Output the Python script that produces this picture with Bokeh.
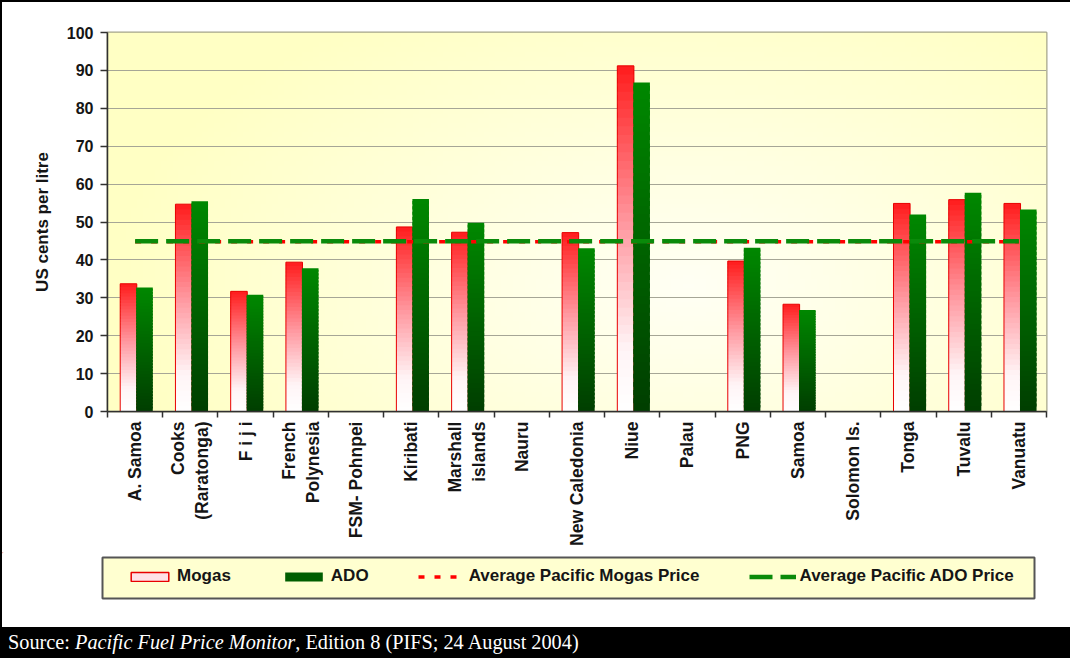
import math
import numpy as np
from bokeh.plotting import figure
from bokeh.models import (Range1d, FixedTicker, Legend, LegendItem, Div,
                          CustomJSTickFormatter)
from bokeh.layouts import column, row
from bokeh.embed import file_html
from bokeh.resources import INLINE

# ---------------- data ----------------
countries = ["A. Samoa", "Cooks\n(Raratonga)", "F i j i", "French\nPolynesia",
             "FSM- Pohnpei", "Kiribati", "Marshall\nislands", "Nauru",
             "New Caledonia", "Niue", "Palau", "PNG", "Samoa", "Solomon Is.",
             "Tonga", "Tuvalu", "Vanuatu"]
mogas = [33.7, 54.7, 31.7, 39.4, None, 48.7, 47.3, None, 47.2, 91.2,
         None, 39.7, 28.3, None, 54.9, 55.9, 54.9]
ado = [32.7, 55.5, 30.8, 37.8, None, 56.1, 49.8, None, 43.1, 86.8,
       None, 43.2, 26.8, None, 52.0, 57.7, 53.3]
mogas_avg = 44.8
ado_avg = 44.9
y_ticks = [0, 10, 20, 30, 40, 50, 60, 70, 80, 90, 100]
series_labels = ["Mogas", "ADO", "Average Pacific Mogas Price", "Average Pacific ADO Price"]
source_text = ('Source: <i>Pacific Fuel Price Monitor</i>, Edition 8 '
               '(PIFS; 24 August 2004)')

n = len(countries)
centers = [i + 0.5 for i in range(n)]
BAR_W = 0.30
M_OFF = -0.12
A_OFF = 0.17

FONT = "Liberation Sans"
MOGAS_LINE = "#E80000"
AVG_M_STYLE = dict(line_color="#FF0000", line_width=3.5, line_dash="6 10")
AVG_A_STYLE = dict(line_color="#0A8A0A", line_width=4.5, line_dash="23 8")

p = figure(width=1068, height=550, x_range=Range1d(0, n), y_range=Range1d(0, 100),
           output_backend="svg", toolbar_location=None,
           min_border_left=105, min_border_right=24, min_border_top=30,
           min_border_bottom=141, margin=0)
p.border_fill_color = "white"
p.background_fill_color = "#FFFFD8"
p.outline_line_color = "#A4A48C"
p.outline_line_width = 2

# background radial gradient of the plot area
H, W = 80, 160
yy, xx = np.mgrid[0:H, 0:W]
fx = xx / (W - 1)
fy = yy / (H - 1)
d = np.clip(np.sqrt(((fx - 0.62) / 0.62) ** 2 + ((fy - 0.33) / 0.85) ** 2), 0, 1)
img = np.empty((H, W), dtype=np.uint32)
view = img.view(dtype=np.uint8).reshape((H, W, 4))
c_in = np.array([255, 255, 244])
c_out = np.array([255, 255, 196])
for ch in range(3):
    view[:, :, ch] = np.round(c_in[ch] + (c_out[ch] - c_in[ch]) * d).astype(np.uint8)
view[:, :, 3] = 255
p.image_rgba(image=[img], x=0, y=0, dw=n, dh=100, level="image")

# ---------------- gradient bars ----------------
def interp_stops(stops, t):
    for (t0, c0), (t1, c1) in zip(stops[:-1], stops[1:]):
        if t <= t1:
            u = 0 if t1 == t0 else (t - t0) / (t1 - t0)
            c = [int(round(a + (b - a) * u)) for a, b in zip(c0, c1)]
            return "#%02x%02x%02x" % tuple(c)
    return "#%02x%02x%02x" % tuple(stops[-1][1])

mogas_stops = [(0.0, (255, 255, 255)), (0.18, (255, 244, 246)),
               (0.55, (255, 150, 158)), (1.0, (255, 28, 28))]
ado_stops = [(0.0, (0, 62, 0)), (1.0, (0, 136, 0))]

NS = 40

def strips(values, off, stops):
    d = dict(left=[], right=[], bottom=[], top=[], color=[])
    for c, v in zip(centers, values):
        if v is None:
            continue
        for k in range(NS):
            t = (k + 0.5) / NS
            d["left"].append(c + off - BAR_W / 2)
            d["right"].append(c + off + BAR_W / 2)
            d["bottom"].append(v * k / NS)
            d["top"].append(min(v, v * (k + 1.6) / NS))
            d["color"].append(interp_stops(stops, t))
    return d

md = strips(mogas, M_OFF, mogas_stops)
p.quad(left="left", right="right", bottom="bottom", top="top", fill_color="color",
       line_color=None, source=md)
mx = [c + M_OFF for c, v in zip(centers, mogas) if v is not None]
mt = [v for v in mogas if v is not None]
p.vbar(x=mx, top=mt, width=BAR_W, fill_color=None, line_color=MOGAS_LINE, line_width=1)

ad = strips(ado, A_OFF, ado_stops)
p.quad(left="left", right="right", bottom="bottom", top="top", fill_color="color",
       line_color=None, source=ad)

# average lines
p.line(x=[centers[0], centers[-1]], y=[mogas_avg, mogas_avg], **AVG_M_STYLE)
p.line(x=[centers[0], centers[-1]], y=[ado_avg, ado_avg], **AVG_A_STYLE)

# ---------------- axes ----------------
xa = p.xaxis[0]
xa.ticker = FixedTicker(ticks=centers, minor_ticks=list(range(n + 1)))
xa.formatter = CustomJSTickFormatter(args=dict(labels=countries),
                                     code="return labels[Math.floor(tick)];")
xa.major_label_orientation = math.pi / 2
xa.major_tick_line_color = None
xa.major_tick_out = 0
xa.major_tick_in = 0
xa.minor_tick_out = 6
xa.minor_tick_in = 0
xa.minor_tick_line_color = "#303030"
xa.minor_tick_line_width = 1.5
xa.axis_line_color = "#303030"
xa.axis_line_width = 1.5
xa.major_label_standoff = 4
xa.major_label_text_font = FONT
xa.major_label_text_font_style = "bold"
xa.major_label_text_font_size = "17.5px"
xa.major_label_text_color = "#151515"

ya = p.yaxis[0]
ya.ticker = FixedTicker(ticks=y_ticks)
ya.minor_tick_line_color = None
ya.major_tick_out = 7
ya.major_tick_in = 0
ya.major_tick_line_color = "#303030"
ya.major_tick_line_width = 1.5
ya.axis_line_color = "#303030"
ya.axis_line_width = 1.5
ya.major_label_standoff = 7
ya.major_label_text_font = FONT
ya.major_label_text_font_style = "bold"
ya.major_label_text_font_size = "16px"
ya.major_label_text_color = "#151515"
ya.axis_label = "US cents per litre"
ya.axis_label_standoff = 12
ya.axis_label_text_font = FONT
ya.axis_label_text_font_style = "bold"
ya.axis_label_text_font_size = "17px"
ya.axis_label_text_color = "#151515"

p.xgrid.visible = False
p.ygrid.ticker = FixedTicker(ticks=y_ticks)
p.ygrid.grid_line_color = "#A6A696"
p.ygrid.grid_line_width = 1.2

# ---------------- legend strip (its own small figure, pixel coordinates) ----------------
LW, LH = 1068, 75
lg = figure(width=LW, height=LH, x_range=Range1d(0, LW), y_range=Range1d(LH, 0),
            output_backend="svg", toolbar_location=None,
            x_axis_type=None, y_axis_type=None,
            min_border=0, min_border_left=0, min_border_right=0,
            min_border_top=0, min_border_bottom=0, margin=0)
lg.outline_line_color = None
lg.border_fill_color = "white"
lg.background_fill_color = "white"
# legend box
lg.quad(left=[100], right=[1032], top=[5], bottom=[46], fill_color="#FFFFD0",
        line_color="#555555", line_width=2)
# legend proxies (outside the visible range)
lr_m = lg.vbar(x=[-50], top=[-40], bottom=[-30], width=5, fill_color="#FFE2E6",
               line_color=MOGAS_LINE, line_width=1.5)
lr_a = lg.vbar(x=[-50], top=[-40], bottom=[-30], width=5, fill_color="#005E00", line_color=None)
lr_ml = lg.line(x=[-60, -50], y=[-40, -40], **AVG_M_STYLE)
lr_al = lg.line(x=[-60, -50], y=[-40, -40], **AVG_A_STYLE)

legend = Legend(items=[LegendItem(label=series_labels[0], renderers=[lr_m]),
                       LegendItem(label=series_labels[1], renderers=[lr_a]),
                       LegendItem(label=series_labels[2], renderers=[lr_ml]),
                       LegendItem(label=series_labels[3], renderers=[lr_al])],
                orientation="horizontal", location=(124, 41),
                glyph_width=47, glyph_height=11, label_standoff=4, spacing=49,
                padding=0, margin=0, label_height=11,
                background_fill_alpha=0, border_line_color=None,
                label_text_font=FONT, label_text_font_style="bold",
                label_text_font_size="17px", label_text_color="#151515")
lg.add_layout(legend, "center")

top_bar = Div(text="", width=1070, height=2, margin=0, styles={"background-color": "black"})
left_bar1 = Div(text="", width=2, height=550, margin=0, styles={"background-color": "black"})
left_bar2 = Div(text="", width=2, height=LH, margin=0, styles={"background-color": "black"})
src = Div(text='<div style="padding-left:8px; color:white; font-family:\'Liberation Serif\', serif; '
               'font-size:20.3px; line-height:31px; white-space:nowrap;">' + source_text + '</div>',
          width=1070, height=31, margin=0,
          styles={"background-color": "black"})

layout = column(top_bar,
                row(left_bar1, p, spacing=0),
                row(left_bar2, lg, spacing=0),
                src, spacing=0)

open("out.html", "w").write(file_html(layout, INLINE))
